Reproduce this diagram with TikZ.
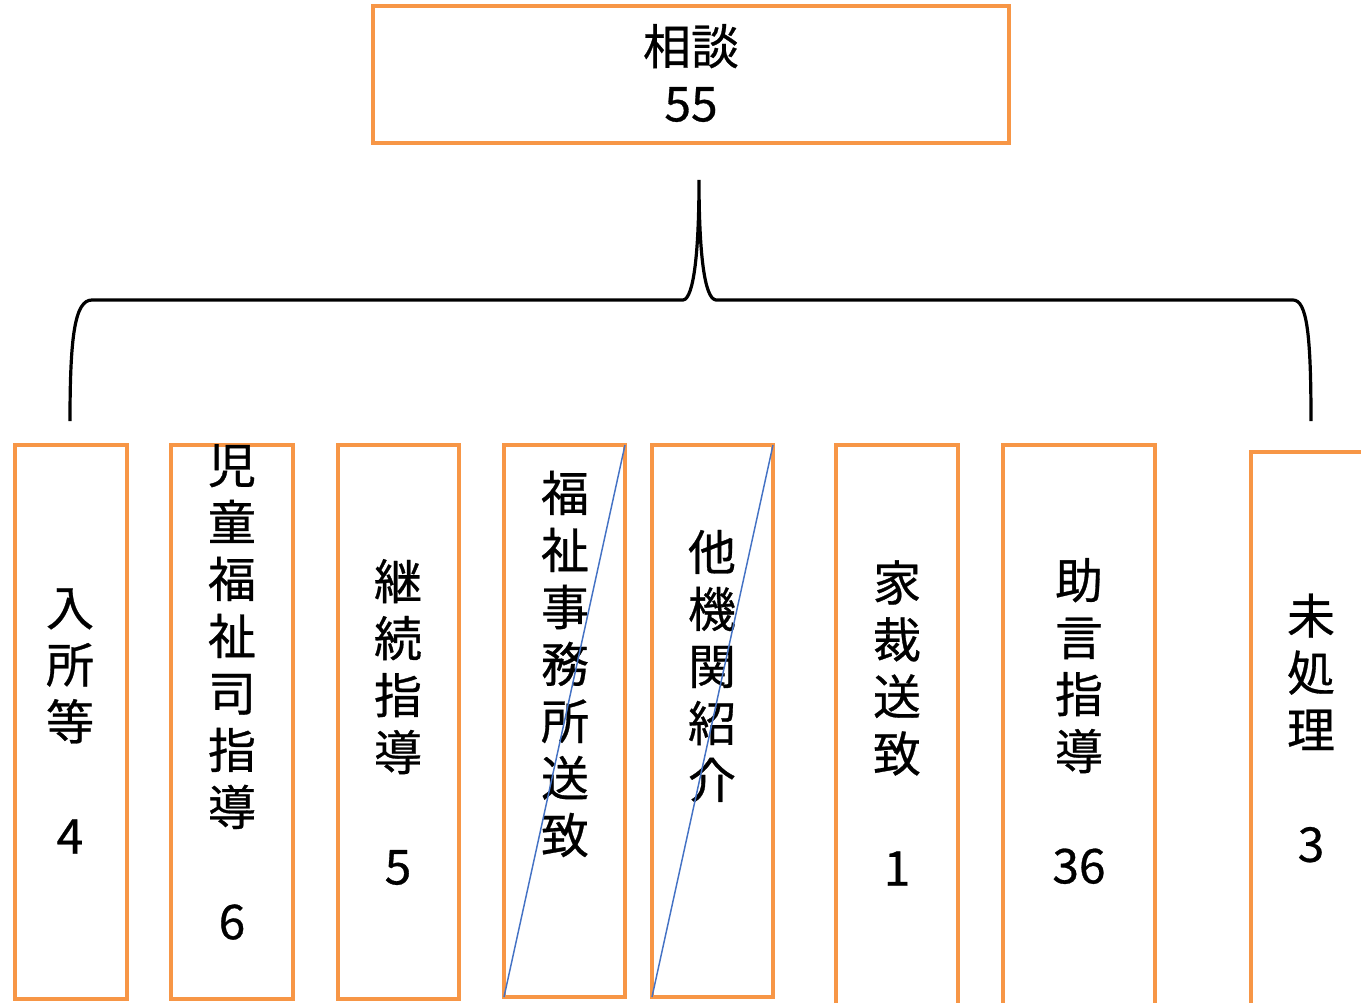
\documentclass[tikz,border=0pt]{standalone}
\usepackage{fontspec}
\newfontfamily\jpfont[FakeBold=0.6]{Noto Sans CJK JP}

\tikzset{every picture/.style={line width=0.75pt}}
\tikzset{
  orbox/.style={draw={rgb, 255:red, 247; green, 150; blue, 70 }, line width=3pt, inner sep=0pt, outer sep=0pt},
  strike/.style={draw={rgb, 255:red, 68; green, 114; blue, 196 }, line width=1.1pt},
  brace/.style={draw=black, line width=2.4pt},
  vtext/.style={font=\jpfont\fontsize{36}{42.75}\selectfont, align=center, inner sep=0pt}
}

\begin{document}
\begin{tikzpicture}[x=0.75pt,y=0.75pt,yscale=-1,xscale=1]
    \useasboundingbox (0,0) rectangle (1361,1003);

    %Shape: Rectangle (top)
    \node [orbox, minimum width=477pt, minimum height=102.75pt] (soudan) at (691,74.5) {};
    %Text Node
    \node [vtext] (soudantxt) at (691,73) {相談\\55};

    %Curve Lines (brace)
    \coordinate (tip) at (699,180);
    \coordinate (lend) at (70,421);
    \coordinate (rend) at (1311,421);
    \draw [brace] (lend) .. controls (70,335) and (75,300) .. (92,300) -- (683,300) .. controls (694,299) and (699,250) .. (tip) .. controls (699,250) and (704,299) .. (716,300) -- (1293,300) .. controls (1307,300) and (1311,335) .. (rend) ;

    %Shape: Rectangle
    \node [orbox, minimum width=84pt, minimum height=415.5pt] (nyusho) at (71,722) {};
    %Shape: Rectangle
    \node [orbox, minimum width=91.5pt, minimum height=415.5pt] (jifuku) at (232,722) {};
    %Shape: Rectangle
    \node [orbox, minimum width=90.75pt, minimum height=415.5pt] (keizoku) at (398.5,722) {};
    %Shape: Rectangle
    \node [orbox, minimum width=90.75pt, minimum height=414pt] (fukuji) at (564.5,721) {};
    %Shape: Rectangle
    \node [orbox, minimum width=90.75pt, minimum height=414pt] (takikan) at (712.5,721) {};
    %Shape: Rectangle
    \node [orbox, minimum width=91.5pt, minimum height=423.75pt] (kasai) at (897,727.5) {};
    %Shape: Rectangle
    \node [orbox, minimum width=114pt, minimum height=423.75pt] (jogen) at (1079,727.5) {};
    %Shape: Rectangle
    \node [orbox, minimum width=90.75pt, minimum height=418.5pt] (mishori) at (1311.5,731) {};

    %Text Node
    \node [vtext] (nyushotxt) at (70,721) {入\\所\\等\\[42.75pt]4};
    %Text Node (clipped by its box)
    \begin{scope}
      \clip ([yshift=-1.5pt]jifuku.north west) rectangle (jifuku.south east);
      \node [vtext] (jifukutxt) at (232,692) {児\\童\\福\\祉\\司\\指\\導\\[42.75pt]6};
    \end{scope}
    %Text Node
    \node [vtext] (keizokutxt) at (398,722) {継\\続\\指\\導\\[42.75pt]5};
    %Text Node
    \node [vtext] (fukujitxt) at (565,664) {福\\祉\\事\\務\\所\\送\\致};
    %Text Node
    \node [vtext] (takikantxt) at (712,666) {他\\機\\関\\紹\\介};
    %Text Node
    \node [vtext] (kasaitxt) at (897,723) {家\\裁\\送\\致\\[42.75pt]1};
    %Text Node
    \node [vtext] (jogentxt) at (1079,721) {助\\言\\指\\導\\[42.75pt]36};
    %Text Node
    \node [vtext] (mishoritxt) at (1311,728) {未\\処\\理\\[42.75pt]3};

    %Straight Lines
    \draw [strike] (fukuji.south west) -- (fukuji.north east) ;
    %Straight Lines
    \draw [strike] (takikan.south west) -- (takikan.north east) ;

\end{tikzpicture}
\end{document}
